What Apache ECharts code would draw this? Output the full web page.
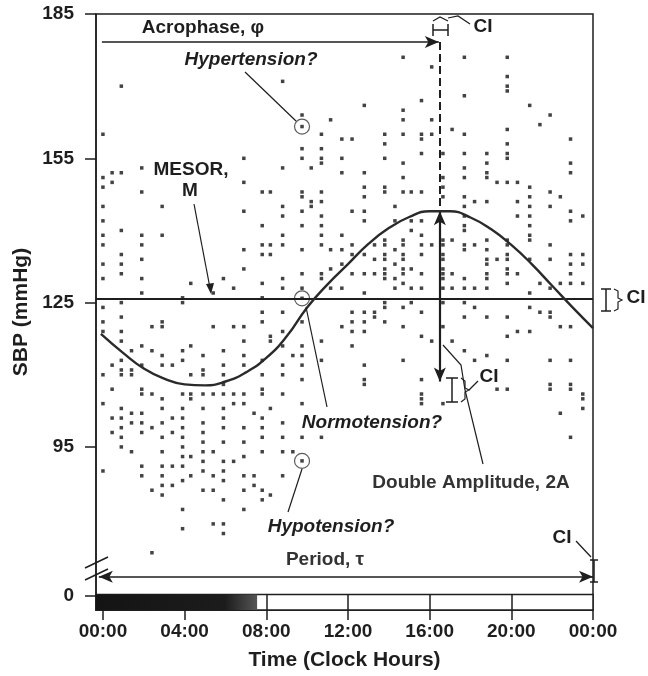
<!DOCTYPE html>
<html>
<head>
<meta charset="utf-8">
<title>SBP cosinor</title>
<script src="https://cdn.jsdelivr.net/npm/echarts@6/dist/echarts.min.js"></script>
<style>
  html, body { margin: 0; padding: 0; background: #fff; }
  #chart { width: 648px; height: 676px; }
</style>
</head>
<body>
<div id="chart"></div>
<script>
// measurement times (clock hours) and the SBP readings taken around each time
const hoursAM = [0.0, 0.45, 0.9, 1.4, 1.9, 2.4, 2.9, 3.4, 3.9, 4.3, 4.9, 5.4, 5.9, 6.4, 6.9, 7.4, 7.8, 8.2, 8.8, 9.3, 9.75, 10.2, 10.7, 11.15, 11.7]
const sbpAM = [
  [160, 151, 149, 145, 142, 139, 137, 133, 130, 124, 121, 119, 110, 104, 90],
  [152, 150, 112, 107, 101, 98],
  [170, 152, 140, 135, 133, 131, 125, 122, 119, 117, 113, 111, 110, 103, 101, 99, 97, 95],
  [115, 111, 110, 102, 100, 94],
  [153, 148, 139, 137, 134, 130, 127, 116, 112, 107, 106, 102, 100, 98, 91, 89],
  [120, 115, 106, 99, 86, 73],
  [145, 139, 121, 120, 114, 112, 105, 103, 100, 97, 94, 91, 89, 87, 85],
  [112, 101, 98, 91, 87],
  [126, 125, 115, 113, 106, 103, 101, 99, 97, 95, 93, 91, 88, 82, 78],
  [129, 116, 110, 106, 105, 93, 89],
  [114, 111, 110, 106, 103, 100, 98, 96, 94, 92, 90, 86],
  [127, 120, 106, 94, 89, 86, 79],
  [130, 115, 112, 110, 108, 106, 103, 101, 99, 96, 92, 90, 88, 84, 79, 77],
  [128, 120, 106, 104, 92],
  [155, 150, 144, 136, 132, 120, 117, 114, 112, 106, 104, 99, 96, 93, 89, 86, 82],
  [102, 89, 87],
  [148, 141, 137, 135, 129, 126, 123, 121, 113, 110, 107, 106, 101, 99, 97, 94, 86, 84],
  [148, 137, 135, 118, 117, 103, 85],
  [171, 153, 145, 143, 139, 137, 130, 128, 123, 119, 116, 112, 110, 106, 100, 97, 94, 89],
  [114, 94],
  [161.6, 164, 157, 155, 148, 147, 144, 141, 136, 131, 128, 125.9, 121, 116, 114, 112, 109, 104, 97, 92.1],
  [153, 146, 145],
  [160, 157, 155, 154, 148, 146, 143, 141, 139, 137, 131, 130, 117, 113, 97],
  [163, 136, 132, 128],
  [159, 155, 152, 139, 136, 133, 128, 120]
]
const hoursPM = [12.2, 12.8, 13.3, 13.8, 14.3, 14.7, 15.1, 15.6, 16.1, 16.65, 17.1, 17.7, 18.2, 18.8, 19.3, 19.8, 20.3, 20.9, 21.4, 21.9, 22.4, 22.9, 23.5]
const sbpPM = [
  [159, 144, 137, 135, 131, 123, 121, 119, 116],
  [166, 152, 149, 147, 144, 142, 135, 131, 127, 123, 121, 119, 112, 109, 108],
  [137, 134, 131, 123, 122],
  [160, 158, 155, 149, 148, 138, 137, 135, 134, 132, 131, 130, 125, 124, 121],
  [145, 142, 136, 133, 130, 128],
  [176, 165, 163, 160, 154, 151, 148, 138, 137, 135, 134, 132, 131, 129, 124, 120, 113],
  [148, 142, 140, 132, 128, 125],
  [167, 160, 159, 156, 148, 142, 139, 137, 135, 131, 128, 123, 118, 109, 106, 105, 104],
  [174, 163, 160, 137, 117],
  [156, 151, 149, 147, 138, 137, 135, 134, 132, 131, 130, 128, 125, 120, 104],
  [161, 138, 131, 128, 117],
  [176, 168, 160, 156, 153, 151, 147, 145, 143, 141, 140, 137, 136, 130, 128, 125, 122, 115],
  [146, 137, 128, 124, 113],
  [156, 154, 152, 151, 146, 138, 136, 134, 133, 131, 130, 128, 122, 114],
  [150, 134, 107],
  [176, 172, 170, 169, 161, 158, 156, 155, 150, 138, 137, 135, 134, 132, 131, 129, 122, 118, 113, 107],
  [150, 146, 143, 131, 119],
  [166, 149, 147, 145, 143, 141, 139, 138, 134, 127, 124, 119],
  [162, 129, 123],
  [164, 148, 145, 137, 134, 128, 123, 122, 113, 108, 107],
  [147, 129, 120, 102],
  [159, 154, 152, 144, 142, 135, 133, 131, 129, 120, 113, 108, 107, 97],
  [143, 135, 133, 129, 106, 105, 103]
]

// fitted cosine curve
const curveHours = [-0.1, 1, 2, 3, 4, 5, 6, 7, 8, 9, 10, 11, 12, 13, 14, 15, 16, 17, 18, 19, 20, 21, 22, 23, 24]
const curveSbp = [118.5, 114.5, 111.3, 109.2, 108, 107.8, 108.6, 110.5, 113.5, 118, 124, 128.8, 133, 137.2, 140.5, 142.8, 144, 144, 142.7, 140.3, 137, 133, 128.5, 124, 119.7]

// cosinor parameters
const mesor = 125.8
const acrophaseHour = 16.5
const peakSbp = 144
const troughSbp = 108.6
const arrowSbp = 179.2
const periodSbp = 68

// circled readings: hyper-, normo-, hypotension?
const flagged = [[9.75, 161.6], [9.75, 125.9], [9.75, 92.1]]

// axes
const xTicks = [0, 4, 8, 12, 16, 20, 24]
const xTickLabels = ['00:00', '04:00', '08:00', '12:00', '16:00', '20:00', '00:00']
const yTicks = [64.1, 95, 125, 155, 185]
const yTickLabels = ['0', '95', '125', '155', '185']
const darkUntil = 7.55

const FONT = '"Liberation Sans", Arial, Helvetica, sans-serif'
const INK = '#1e1e1e'

function toPoints(hours, cols) {
  const out = []
  hours.forEach((h, i) => cols[i].forEach((v) => out.push([h, v])))
  return out
}

function txt(text, x, y, font, fill) {
  return {
    type: 'text', x, y, silent: true, z: 20,
    style: { text, font: font || 'bold 19px ' + FONT, fill: fill || INK, align: 'center', verticalAlign: 'middle' }
  }
}

function pline(points, width) {
  return {
    type: 'polyline', silent: true, z: 20,
    shape: { points },
    style: { stroke: INK, lineWidth: width || 1.2, fill: null }
  }
}

const chart = echarts.init(document.getElementById('chart'))

const seg = (a, b, sa, sb) => [
  { coord: a, symbol: sa || 'none' },
  { coord: b, symbol: sb || 'none' }
]

const option = {
  animation: false,
  backgroundColor: '#fff',
  grid: { left: 96, right: 55, top: 14, bottom: 65, show: true, borderColor: INK, borderWidth: 1.5 },
  xAxis: {
    type: 'value',
    min: -0.34,
    max: 24,
    axisLine: { show: true, onZero: false, lineStyle: { color: INK, width: 1.5 } },
    axisTick: { show: true, customValues: xTicks, length: 10, lineStyle: { color: INK, width: 1.5 } },
    axisLabel: {
      customValues: xTicks,
      formatter: (v) => xTickLabels[xTicks.indexOf(v)],
      margin: 12, fontSize: 19, fontWeight: 'bold', fontFamily: FONT, color: INK
    },
    splitLine: { show: false },
    name: 'Time (Clock Hours)',
    nameLocation: 'middle',
    nameGap: 40,
    nameTextStyle: { fontSize: 21, fontWeight: 'bold', fontFamily: FONT, color: INK }
  },
  yAxis: {
    type: 'value',
    min: 61.1,
    max: 185,
    axisLine: { show: true, onZero: false, lineStyle: { color: INK, width: 1.5 } },
    axisTick: { show: true, customValues: yTicks, length: 11, lineStyle: { color: INK, width: 1.5 } },
    axisLabel: {
      customValues: yTicks,
      formatter: (v) => yTickLabels[yTicks.indexOf(v)],
      margin: 22, fontSize: 19, fontWeight: 'bold', fontFamily: FONT, color: INK
    },
    splitLine: { show: false },
    name: 'SBP (mmHg)',
    nameLocation: 'middle',
    nameGap: 62,
    nameTextStyle: { fontSize: 21, fontWeight: 'bold', fontFamily: FONT, color: INK }
  },
  series: [
    {
      name: 'SBP',
      type: 'scatter',
      symbol: 'rect',
      symbolSize: 3.5,
      itemStyle: { color: '#141414' },
      data: toPoints(hoursAM, sbpAM).concat(toPoints(hoursPM, sbpPM)),
      z: 3
    },
    {
      name: 'flagged',
      type: 'scatter',
      symbol: 'circle',
      symbolSize: 15,
      itemStyle: { color: 'rgba(0,0,0,0)', borderColor: '#333', borderWidth: 1.2 },
      data: flagged,
      z: 4
    },
    {
      name: 'cosinor',
      type: 'line',
      smooth: 0.5,
      showSymbol: false,
      lineStyle: { color: '#2a2a2a', width: 2.4 },
      data: curveHours.map((h, i) => [h, curveSbp[i]]),
      z: 5,
      markArea: {
        silent: true,
        data: [
          [
            { coord: [-0.34, 61.1], itemStyle: { color: '#fff', borderColor: INK, borderWidth: 1.5 } },
            { coord: [24, 64.3] }
          ],
          [
            {
              coord: [-0.34, 61.1],
              itemStyle: {
                color: new echarts.graphic.LinearGradient(0, 0, 1, 0, [
                  { offset: 0, color: '#141414' },
                  { offset: 0.8, color: '#1c1c1c' },
                  { offset: 1, color: '#555' }
                ])
              }
            },
            { coord: [darkUntil, 64.3] }
          ]
        ]
      },
      markLine: {
        silent: true,
        symbol: ['none', 'none'],
        symbolSize: [9, 14],
        label: { show: false },
        lineStyle: { color: INK, width: 1.5, type: 'solid' },
        data: [
          seg([-0.05, arrowSbp], [acrophaseHour - 0.05, arrowSbp], 'none', 'arrow'),
          seg([acrophaseHour, arrowSbp], [acrophaseHour, peakSbp]),
          seg([acrophaseHour, peakSbp], [acrophaseHour, troughSbp], 'arrow', 'arrow'),
          seg([-0.2, periodSbp], [24, periodSbp], 'arrow', 'arrow'),
          seg([-0.34, mesor], [24, mesor]),
          seg([8, 61.1], [8, 64.3]),
          seg([12, 61.1], [12, 64.3]),
          seg([16, 61.1], [16, 64.3]),
          seg([20, 61.1], [20, 64.3])
        ].map((d, i) => {
          if (i === 1) d[0].lineStyle = { type: [8, 4], width: 2 }
          if (i === 2) d[0].lineStyle = { width: 2.2 }
          if (i === 4) d[0].lineStyle = { width: 2 }
          return d
        })
      }
    }
  ],
  graphic: [
    txt('Acrophase, φ', 203, 28),
    txt('Hypertension?', 251, 60, 'italic bold 19px ' + FONT),
    txt('MESOR,', 191, 170),
    txt('M', 190, 191),
    txt('Normotension?', 372, 423, 'italic bold 19px ' + FONT),
    txt('Hypotension?', 331, 527, 'italic bold 19px ' + FONT),
    txt('Period, τ', 325, 560, 'bold 19px ' + FONT, '#333'),
    txt('Double Amplitude, 2A', 471, 483, 'bold 19px ' + FONT, '#333'),
    txt('CI', 483, 27),
    txt('CI', 636, 298),
    txt('CI', 489, 377),
    txt('CI', 562, 538),
    // leaders
    pline([[245, 72], [296, 121]]),
    pline([[306, 307], [327, 407]]),
    pline([[302, 469], [288, 512]]),
    pline([[194, 204], [210, 288]]),
    { type: 'polygon', silent: true, z: 20, shape: { points: [[206, 284], [214, 283], [211, 294]] }, style: { fill: INK } },
    pline([[443, 345], [461, 365], [465, 390], [483, 464]]),
    // acrophase CI
    pline([[433, 30], [448, 30]], 1.5),
    pline([[433, 24], [433, 36]], 1.5),
    pline([[448, 24], [448, 36]], 1.5),
    pline([[433, 21], [440, 17], [448, 21]]),
    pline([[448, 18], [458, 16], [470, 24]]),
    // MESOR CI
    pline([[606, 289], [606, 311]], 1.5),
    pline([[601, 289], [611, 289]], 1.5),
    pline([[601, 311], [611, 311]], 1.5),
    pline([[614, 289], [618, 291], [618, 298], [622, 300], [618, 302], [618, 309], [614, 311]]),
    // amplitude CI
    pline([[452, 378], [452, 402]], 1.5),
    pline([[446, 378], [458, 378]], 1.5),
    pline([[446, 402], [458, 402]], 1.5),
    pline([[461, 378], [465, 381], [465, 388], [469, 390], [465, 392], [465, 399], [461, 402]]),
    pline([[469, 390], [478, 381]]),
    // period CI
    pline([[594, 560], [594, 582]], 1.5),
    pline([[590, 560], [598, 560]], 1.5),
    pline([[590, 582], [598, 582]], 1.5),
    pline([[576, 541], [591, 557]]),
    // axis break
    pline([[85, 568], [108, 557]], 1.5),
    pline([[85, 580], [108, 569]], 1.5)
  ]
}

chart.setOption(option)
</script>
</body>
</html>
